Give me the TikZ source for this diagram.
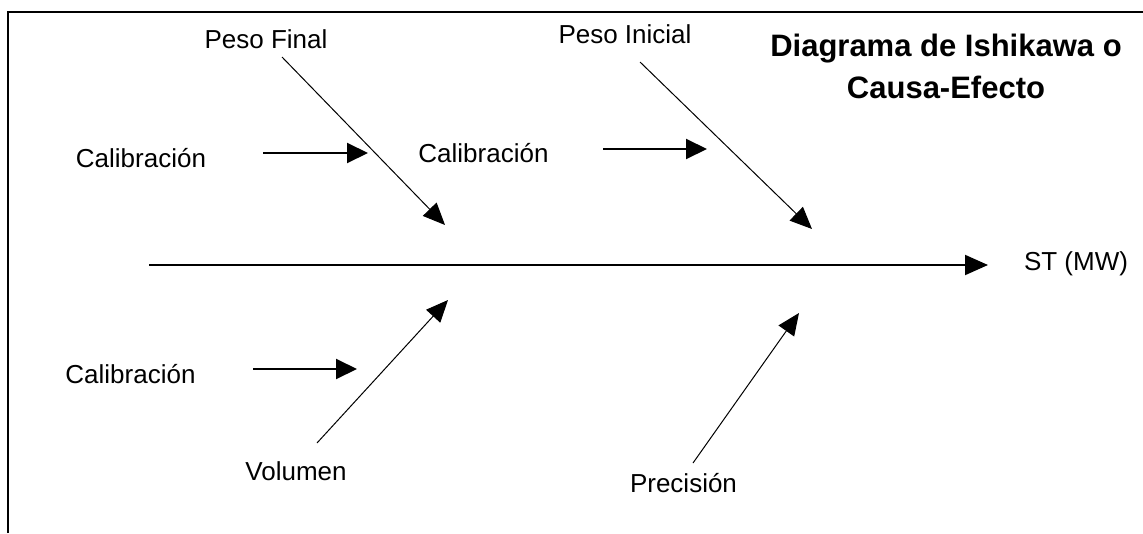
\documentclass[tikz,border=0pt]{standalone}
\usepackage{fontspec}
\setmainfont{Liberation Sans}
\usetikzlibrary{arrows.meta}
\begin{document}
\begin{tikzpicture}[x=1pt,y=-1pt,
  lbl/.style={font=\fontsize{26}{30}\selectfont, inner sep=0pt, anchor=base, text=black},
  ttl/.style={font=\fontsize{31}{42}\selectfont\bfseries, inner sep=0pt, anchor=north, align=center, text=black},
  spinearrow/.style={line width=2pt, -{Triangle[length=23pt,width=20pt]}},
  subarrow/.style={line width=2pt, -{Triangle[length=21pt,width=20pt]}},
  bonearrow/.style={line width=1pt, -{Triangle[length=22pt,width=19pt]}},
  frame/.style={line width=2pt}]
\useasboundingbox[fill=white] (0,0) rectangle (1143,533);
% frame
\coordinate (fbl) at (8,533);
\coordinate (ftl) at (8,12);
\coordinate (ftr) at (1143,12);
\draw[frame] (fbl) -- (ftl) -- (ftr);
% labels
\node[ttl] (title) at (946,34) {Diagrama de Ishikawa o\\Causa-Efecto};
\node[lbl] (pf) at (266,48) {Peso Final};
\node[lbl] (pi) at (625,43) {Peso Inicial};
\node[lbl] (cal1) at (141,167) {Calibración};
\node[lbl] (cal2) at (483.5,162) {Calibración};
\node[lbl] (cal3) at (130.5,383) {Calibración};
\node[lbl] (vol) at (296,480) {Volumen};
\node[lbl] (prec) at (683.5,492) {Precisión};
\node[lbl] (st) at (1076,270) {ST (MW)};
% connector end points
\coordinate (spineA) at (149,265);
\coordinate (spineB) at (988,265);
\coordinate (pfA) at (282,57);
\coordinate (pfB) at (445,225);
\coordinate (piA) at (640,62);
\coordinate (piB) at (812,229);
\coordinate (volA) at (317,443);
\coordinate (volB) at (448,300);
\coordinate (precA) at (693,463);
\coordinate (precB) at (799,313);
\coordinate (c1A) at (263,153);
\coordinate (c1B) at (368,153);
\coordinate (c2A) at (603,149);
\coordinate (c2B) at (707,149);
\coordinate (c3A) at (253,369);
\coordinate (c3B) at (357,369);
% connectors
\draw[spinearrow] (spineA) -- (spineB);
\draw[bonearrow] (pfA) -- (pfB);
\draw[bonearrow] (piA) -- (piB);
\draw[bonearrow] (volA) -- (volB);
\draw[bonearrow] (precA) -- (precB);
\draw[subarrow] (c1A) -- (c1B);
\draw[subarrow] (c2A) -- (c2B);
\draw[subarrow] (c3A) -- (c3B);
\end{tikzpicture}
\end{document}
